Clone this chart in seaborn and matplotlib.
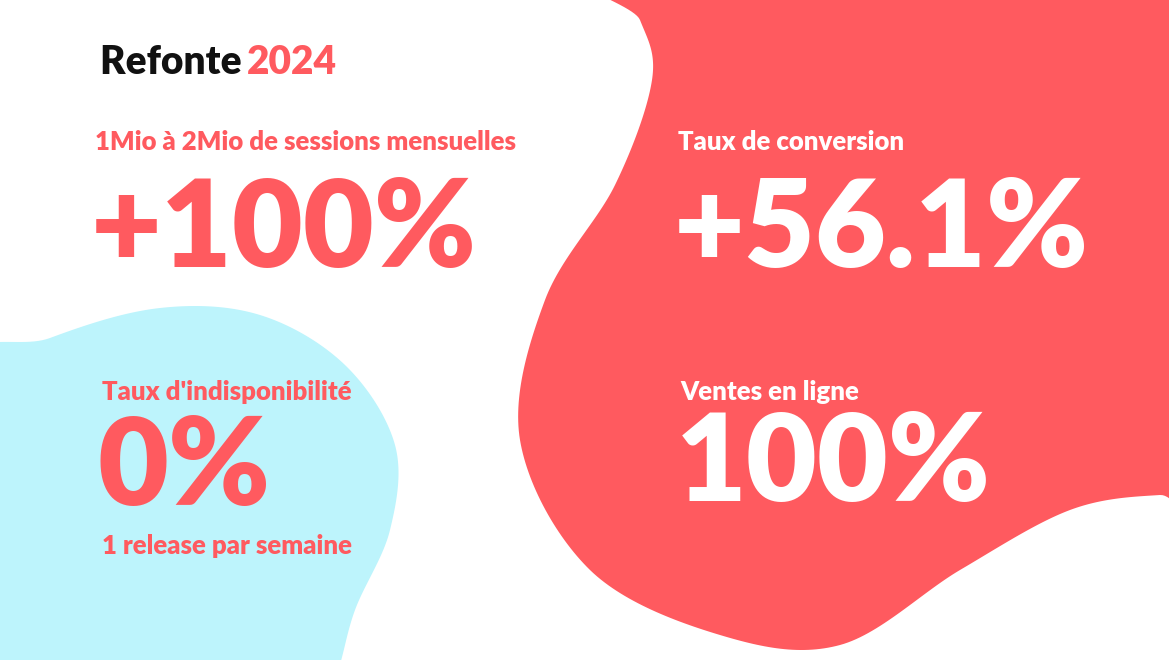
import numpy as np
import matplotlib
matplotlib.use("Agg")
import matplotlib.pyplot as plt
from matplotlib.patches import Polygon
import seaborn as sns

sns.set_theme(style="white", font="Lato")

# ================================
# DATA
# ================================
TITLE_WORD = "Refonte"
TITLE_YEAR = "2024"
KPI_LABELS = ["1Mio à 2Mio de sessions mensuelles", "Taux de conversion",
              "Taux d'indisponibilité", "Ventes en ligne"]
KPI_VALUES = ["+100%", "+56.1%", "0%", "100%"]
KPI_NOTES = ["", "", "1 release par semaine", ""]

RED = "#FF5A5F"
BLUE = "#BDF4FC"


def smooth_closed(pts, n=30):
    pts = np.asarray(pts, float)
    out = []
    k = len(pts)
    for i in range(k):
        p0, p1, p2, p3 = pts[i - 1], pts[i], pts[(i + 1) % k], pts[(i + 2) % k]
        for t in np.linspace(0, 1, n, endpoint=False):
            t2, t3 = t * t, t * t * t
            out.append(0.5 * ((2 * p1) + (-p0 + p2) * t + (2 * p0 - 5 * p1 + 4 * p2 - p3) * t2
                              + (-p0 + 3 * p1 - 3 * p2 + p3) * t3))
    return np.array(out)


fig = plt.figure(figsize=(11.69, 6.6), dpi=100)
ax = fig.add_axes([0, 0, 1, 1])
ax.set_xlim(0, 1169)
ax.set_ylim(660, 0)
ax.axis("off")

# background blobs (decoration)
blue = smooth_closed([(-60, 390), (50, 338), (160, 308), (260, 315), (345, 365), (395, 445),
                      (390, 530), (355, 610), (335, 680), (300, 760), (-60, 760)])
ax.add_patch(Polygon(blue, color=BLUE, lw=0, zorder=1))
red = smooth_closed([(605, -40), (1220, -40), (1220, 500), (1160, 495), (1070, 510),
                     (960, 570), (840, 645), (720, 635), (590, 570), (520, 440),
                     (545, 300), (615, 185), (652, 80), (640, 20)])
ax.add_patch(Polygon(red, color=RED, lw=0, zorder=2))

# title
t = ax.text(100, 62, TITLE_WORD + " ", fontsize=28, fontweight="black", color="#111111",
            va="center", ha="left", zorder=5)
fig.canvas.draw()
bb = t.get_window_extent().transformed(ax.transData.inverted())
ax.text(bb.x1 - 4, 62, TITLE_YEAR, fontsize=28, fontweight="black", color=RED,
        va="center", ha="left", zorder=5)

# KPI blocks
pos = [(95, 142, 232), (678, 142, 232), (102, 392, 470), (680, 392, 465)]
cols = [RED, "white", RED, "white"]
for (x, ly, vy), lab, val, note, c in zip(pos, KPI_LABELS, KPI_VALUES, KPI_NOTES, cols):
    ax.text(x, ly, lab, fontsize=18.5, fontweight="black", color=c, va="center", ha="left", zorder=5)
    ax.text(x - 4, vy, val, fontsize=88, fontweight="black", color=c, va="center", ha="left", zorder=5)
    if note:
        ax.text(x, 546, note, fontsize=18.5, fontweight="black", color=c, va="center", ha="left", zorder=5)

fig.savefig("out.png", dpi=100, facecolor="white")
